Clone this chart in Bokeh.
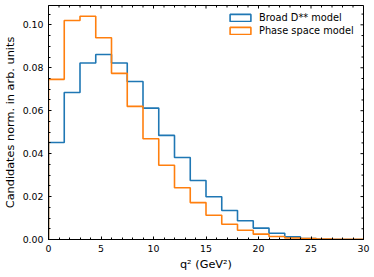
import numpy as np
from bokeh.plotting import figure
from bokeh.models import (Range1d, SingleIntervalTicker, NumeralTickFormatter,
                          Legend, LegendItem, ColumnDataSource)
from bokeh.embed import file_html
from bokeh.resources import INLINE

# ---- data ----
bin_edges = [0.0, 1.5, 3.0, 4.5, 6.0, 7.5, 9.0, 10.5, 12.0, 13.5, 15.0,
             16.5, 18.0, 19.5, 21.0, 22.5, 24.0, 25.5, 27.0, 28.5, 30.0]
broad_dss = [0.0452, 0.0685, 0.0822, 0.0862, 0.0822, 0.0736, 0.0612, 0.0485, 0.0382, 0.0275,
             0.0199, 0.0135, 0.0087, 0.0053, 0.0029, 0.0012, 0.0004, 0.0001, 0.0, 0.0]
phase_space = [0.0746, 0.1020, 0.1040, 0.0940, 0.0774, 0.0620, 0.0469, 0.0346, 0.0241, 0.0172,
               0.0113, 0.0071, 0.0043, 0.0025, 0.0014, 0.0007, 0.0004, 0.0002, 0.0001, 0.0001]
series_labels = ["Broad D** model", "Phase space model"]
x_label = "q² (GeV²)"
y_label = "Candidates norm. in arb. units"
x_major = [0, 5, 10, 15, 20, 25, 30]
x_minor = [1, 2, 3, 4, 6, 7, 8, 9, 11, 12, 13, 14, 16, 17, 18, 19, 21, 22, 23, 24, 26, 27, 28, 29]
y_major = [0.0, 0.02, 0.04, 0.06, 0.08, 0.10]
y_minor = [0.005, 0.01, 0.015, 0.025, 0.03, 0.035, 0.045, 0.05, 0.055, 0.065, 0.07, 0.075,
           0.085, 0.09, 0.095, 0.105]
X_MAX = 30
Y_MAX = 0.109

BLUE = "#1f77b4"
ORANGE = "#ff7f0e"
FONT = "DejaVu Sans"


def step_outline(edges, vals):
    e = np.asarray(edges, dtype=float)
    v = np.asarray(vals, dtype=float)
    xs = np.repeat(e, 2)
    ys = np.concatenate([[0.0], np.repeat(v, 2), [0.0]])
    return xs, ys


p = figure(frame_width=315, frame_height=234, output_backend="svg", toolbar_location=None,
           x_range=Range1d(0, X_MAX), y_range=Range1d(0, Y_MAX),
           min_border_left=48, min_border_right=11, min_border_top=5, min_border_bottom=38,
           x_axis_label=x_label, y_axis_label=y_label)
p.grid.visible = False
p.outline_line_color = "black"
p.outline_line_width = 1
p.background_fill_color = "white"
p.border_fill_color = "white"

p.xaxis.ticker = SingleIntervalTicker(interval=5, num_minor_ticks=5)
p.yaxis.ticker = SingleIntervalTicker(interval=0.02, num_minor_ticks=4)
p.yaxis.formatter = NumeralTickFormatter(format="0.00")

for ax in p.xaxis + p.yaxis:
    ax.axis_line_color = "black"
    ax.axis_line_width = 1
    ax.major_tick_in = 3
    ax.major_tick_out = 0
    ax.minor_tick_in = 2
    ax.minor_tick_out = 0
    ax.major_tick_line_color = "black"
    ax.minor_tick_line_color = "black"
    ax.major_label_text_font = FONT
    ax.major_label_text_font_size = "9.4px"
    ax.major_label_text_color = "black"
    ax.major_label_standoff = 5
    ax.axis_label_text_font = FONT
    ax.axis_label_text_font_style = "normal"
    ax.axis_label_text_color = "black"
    ax.axis_label_text_font_size = "11.3px"
    ax.axis_label_standoff = 3
p.xaxis.axis_label_standoff = 3

# inward ticks on top and right edges
p.ray(x=x_major, y=[Y_MAX] * len(x_major), length=3, length_units="screen",
      angle=-np.pi / 2, line_color="black", line_width=1)
p.ray(x=x_minor, y=[Y_MAX] * len(x_minor), length=2, length_units="screen",
      angle=-np.pi / 2, line_color="black", line_width=1)
p.ray(x=[X_MAX] * len(y_major), y=y_major, length=3, length_units="screen",
      angle=np.pi, line_color="black", line_width=1)
p.ray(x=[X_MAX] * len(y_minor), y=y_minor, length=2, length_units="screen",
      angle=np.pi, line_color="black", line_width=1)

xb, yb = step_outline(bin_edges, broad_dss)
xo, yo = step_outline(bin_edges, phase_space)
p.line(xb, yb, line_color=BLUE, line_width=1.6)
p.line(xo, yo, line_color=ORANGE, line_width=1.6)

# legend proxies (hollow rectangles like matplotlib step patches); NaN rows draw nothing
nan_src = dict(l=[np.nan], r=[np.nan], t=[np.nan], b=[np.nan])
leg_b = p.quad(source=ColumnDataSource(nan_src), left="l", right="r", top="t", bottom="b",
               fill_alpha=0, line_color=BLUE, line_width=1.6)
leg_o = p.quad(source=ColumnDataSource(dict(nan_src)), left="l", right="r", top="t", bottom="b",
               fill_alpha=0, line_color=ORANGE, line_width=1.6)
legend = Legend(items=[LegendItem(label=series_labels[0], renderers=[leg_b]),
                       LegendItem(label=series_labels[1], renderers=[leg_o])],
                location="top_right", margin=4, padding=3, spacing=2,
                glyph_width=26, glyph_height=9, label_height=9, label_width=97,
                label_standoff=6, label_text_font=FONT, label_text_font_size="9.8px",
                label_text_color="black", border_line_alpha=0, background_fill_alpha=0)
p.add_layout(legend)

open("out.html", "w").write(file_html(p, INLINE))
